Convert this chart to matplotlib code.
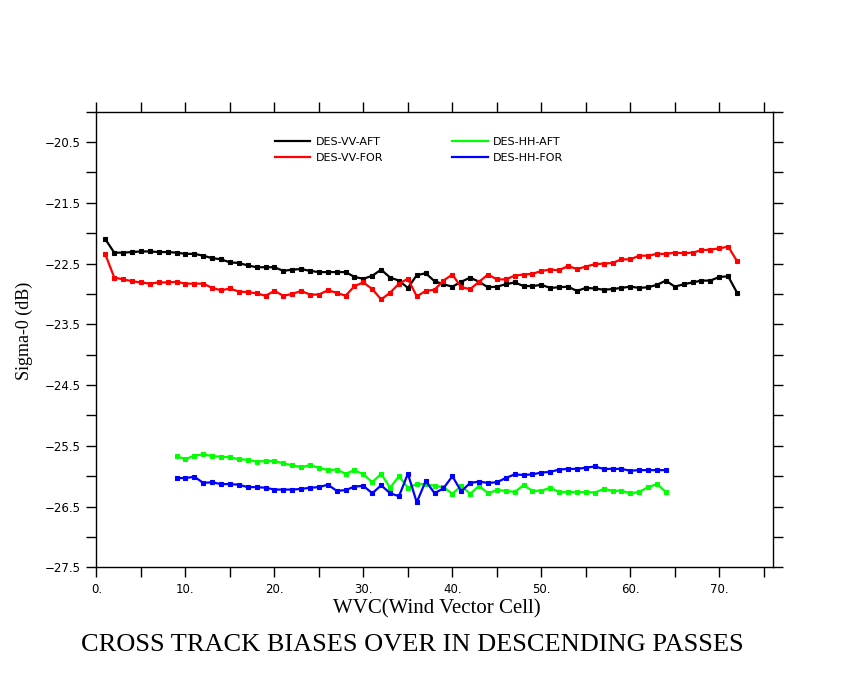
import numpy as np
import matplotlib
matplotlib.use("Agg")
import matplotlib.pyplot as plt
from matplotlib.lines import Line2D

wvc_vv = list(range(1, 73))
wvc_hh = list(range(9, 65))

vv_aft = [-22.10, -22.32, -22.32, -22.31, -22.30, -22.30, -22.31, -22.31, -22.32, -22.34,
          -22.34, -22.37, -22.41, -22.43, -22.48, -22.49, -22.53, -22.56, -22.56, -22.56,
          -22.62, -22.60, -22.59, -22.62, -22.64, -22.64, -22.64, -22.64, -22.72, -22.75,
          -22.70, -22.60, -22.73, -22.78, -22.90, -22.69, -22.66, -22.79, -22.84, -22.88,
          -22.80, -22.73, -22.80, -22.89, -22.88, -22.84, -22.81, -22.87, -22.87, -22.85,
          -22.90, -22.89, -22.88, -22.95, -22.90, -22.91, -22.93, -22.92, -22.90, -22.88,
          -22.90, -22.89, -22.85, -22.78, -22.88, -22.84, -22.81, -22.78, -22.78, -22.72,
          -22.71, -22.98]

vv_for = [-22.35, -22.73, -22.76, -22.79, -22.81, -22.83, -22.81, -22.81, -22.80, -22.83,
          -22.83, -22.83, -22.90, -22.94, -22.91, -22.96, -22.97, -22.99, -23.03, -22.95,
          -23.03, -23.00, -22.95, -23.01, -23.01, -22.94, -22.98, -23.03, -22.87, -22.81,
          -22.92, -23.09, -22.98, -22.83, -22.75, -23.04, -22.95, -22.93, -22.78, -22.68,
          -22.89, -22.92, -22.80, -22.68, -22.76, -22.76, -22.70, -22.68, -22.67, -22.62,
          -22.60, -22.61, -22.54, -22.59, -22.55, -22.51, -22.50, -22.49, -22.43, -22.43,
          -22.37, -22.37, -22.34, -22.34, -22.32, -22.33, -22.32, -22.28, -22.27, -22.25,
          -22.22, -22.46]

hh_aft = [-25.67, -25.72, -25.66, -25.64, -25.67, -25.68, -25.69, -25.72, -25.73, -25.76,
          -25.75, -25.75, -25.79, -25.82, -25.85, -25.82, -25.86, -25.90, -25.89, -25.96,
          -25.90, -25.97, -26.10, -25.96, -26.19, -26.00, -26.19, -26.13, -26.13, -26.16,
          -26.18, -26.29, -26.16, -26.29, -26.16, -26.28, -26.23, -26.24, -26.26, -26.15,
          -26.24, -26.24, -26.19, -26.26, -26.26, -26.26, -26.26, -26.27, -26.21, -26.24,
          -26.24, -26.28, -26.26, -26.18, -26.13, -26.26]

hh_for = [-26.03, -26.03, -26.01, -26.11, -26.10, -26.13, -26.13, -26.14, -26.18, -26.18,
          -26.19, -26.22, -26.22, -26.22, -26.21, -26.19, -26.18, -26.14, -26.24, -26.23,
          -26.17, -26.16, -26.28, -26.15, -26.28, -26.33, -25.96, -26.43, -26.08, -26.28,
          -26.20, -26.00, -26.25, -26.11, -26.09, -26.11, -26.10, -26.03, -25.97, -25.98,
          -25.97, -25.94, -25.93, -25.89, -25.88, -25.88, -25.86, -25.84, -25.88, -25.88,
          -25.88, -25.91, -25.90, -25.90, -25.90, -25.90]

series = [
    ("DES-VV-AFT", wvc_vv, vv_aft, "#000000"),
    ("DES-VV-FOR", wvc_vv, vv_for, "#ff0000"),
    ("DES-HH-AFT", wvc_hh, hh_aft, "#00ff00"),
    ("DES-HH-FOR", wvc_hh, hh_for, "#0000ff"),
]

x_ticks = np.arange(0, 76, 5)
x_labels = ["%d." % t if t % 10 == 0 else "" for t in x_ticks]
y_ticks = np.arange(-27.5, -19.99, 0.5)
y_labels = ["\u2212%.1f" % abs(t) if round(t * 2) % 2 != 0 else "" for t in y_ticks]

fig = plt.figure(figsize=(8.5, 6.8), dpi=100)
ax = fig.add_axes([0.1135, 0.1657, 0.7955, 0.670])

for name, xs, ys, col in series:
    ax.plot(xs, ys, color=col, lw=1.6, marker="s", ms=2.2, mew=0.8)

ax.set_xlim(0, 76)
ax.set_ylim(-27.5, -20.0)
ax.set_xticks(x_ticks)
ax.set_xticklabels(x_labels)
ax.set_yticks(y_ticks)
ax.set_yticklabels(y_labels)
ax.tick_params(direction="out", length=7.5, width=1, labelsize=8.5,
               top=True, right=True, pad=4)
for sp in ax.spines.values():
    sp.set_linewidth(1)

ax.set_xlabel("WVC(Wind Vector Cell)", family="Liberation Serif", fontsize=15, va="center")
ax.xaxis.set_label_coords(0.503, -0.091)
ax.set_ylabel("Sigma-0 (dB)", family="Liberation Serif", fontsize=13, va="center")
ax.yaxis.set_label_coords(-0.106, 0.52)

handles = [Line2D([], [], color=s[3], lw=1.6) for s in series]
ax.legend(handles, [s[0] for s in series], ncol=2, frameon=False, fontsize=8,
          loc="upper left", bbox_to_anchor=(0.257, 0.954), handlelength=3.2,
          handletextpad=0.5, columnspacing=6.2, labelspacing=0.55, borderaxespad=0)

fig.text(0.485, 0.0515, "CROSS TRACK BIASES OVER IN DESCENDING PASSES",
         family="Liberation Serif", fontsize=19, ha="center", va="center")

fig.savefig("out.png", dpi=100)
